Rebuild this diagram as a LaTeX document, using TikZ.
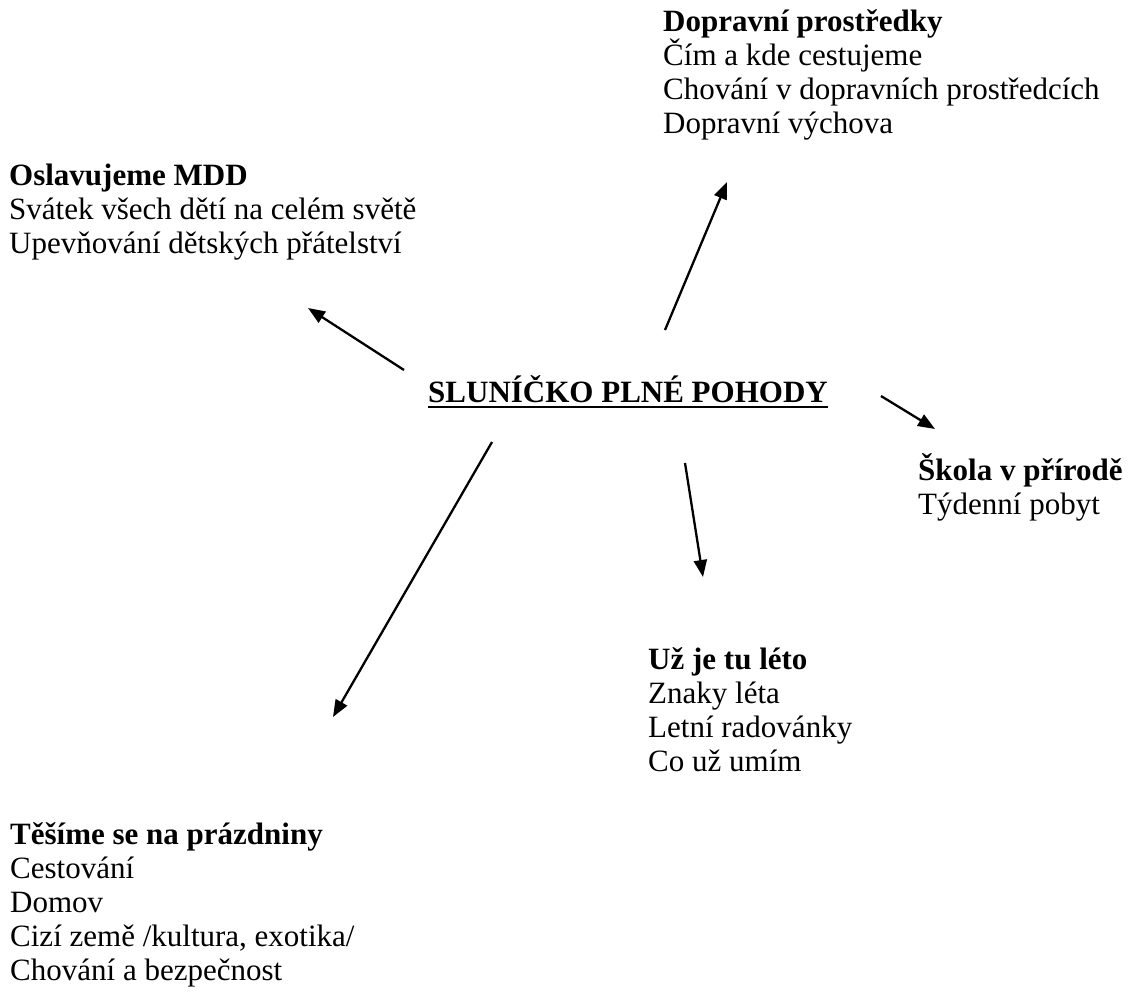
\documentclass[tikz,border=0pt]{standalone}
\usepackage{fontspec}
\setmainfont{Liberation Serif}
\usetikzlibrary{arrows.meta}
\tikzset{
  topic/.style={anchor=north west,inner sep=0pt,align=left,font=\fontsize{31}{34}\selectfont},
  link/.style={-{Triangle[length=17pt,width=13pt]},line width=2.3pt}
}
\begin{document}
\begin{tikzpicture}[x=1pt,y=-1pt]
  \useasboundingbox (0,0) rectangle (1132,994);
  % central theme
  \node[topic,anchor=base west] (center) at (428,402) {\textbf{SLUNÍČKO PLNÉ POHODY}};
  \draw[line width=2.6pt] ([yshift=-5pt]center.base west) -- ([yshift=-5pt]center.base east);

  % sub topics
  \node[topic] (doprava) at (663,9) {\textbf{Dopravní prostředky}\\Čím a kde cestujeme\\Chování v dopravních prostředcích\\Dopravní výchova};
  \node[topic] (mdd) at (9,164) {\textbf{Oslavujeme MDD}\\Svátek všech dětí na celém světě\\Upevňování dětských přátelství};
  \node[topic] (skola) at (918,453) {\textbf{Škola v přírodě}\\Týdenní pobyt};
  \node[topic] (leto) at (648,647) {\textbf{Už je tu léto}\\Znaky léta\\Letní radovánky\\Co už umím};
  \node[topic] (prazdniny) at (10,822) {\textbf{Těšíme se na prázdniny}\\Cestování\\Domov\\Cizí země /kultura, exotika/\\Chování a bezpečnost};

  % arrows
  \coordinate (d1) at (665,330); \coordinate (d2) at (727,182);
  \coordinate (m1) at (404,370); \coordinate (m2) at (308,308);
  \coordinate (s1) at (881,396); \coordinate (s2) at (935,429);
  \coordinate (l1) at (685,463); \coordinate (l2) at (703,577);
  \coordinate (p1) at (492,442); \coordinate (p2) at (333,717);
  \foreach \a/\b in {d1/d2,m1/m2,s1/s2,l1/l2,p1/p2}
    \draw[link] (\a) -- (\b);
\end{tikzpicture}
\end{document}
